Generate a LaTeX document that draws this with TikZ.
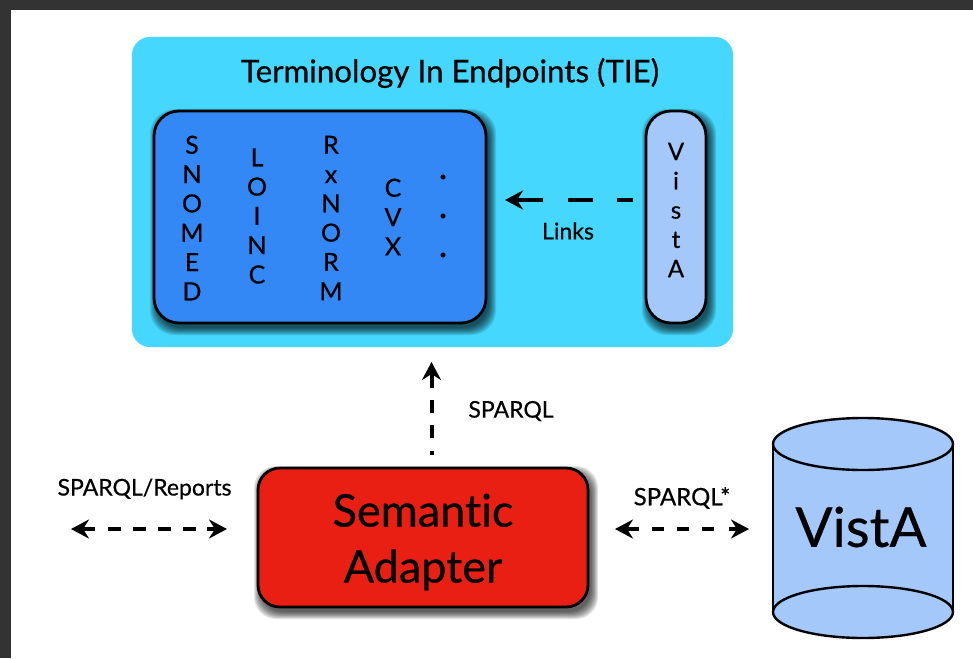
\documentclass[tikz,border=0pt]{standalone}
\usepackage{fontspec}
\setmainfont[FakeBold=0.5,Ligatures=NoCommon]{Lato}
\usetikzlibrary{arrows.meta,calc}
\definecolor{framegrey}{HTML}{333333}
\definecolor{tiecyan}{HTML}{45D7FD}
\definecolor{boxblue}{HTML}{3388F5}
\definecolor{lightblue}{HTML}{A5C8FA}
\definecolor{adapterred}{HTML}{EA1F13}
\newcommand{\softshadow}[5]{% x1 y1 x2 y2 radius: layered soft shadow
  \foreach \g in {14,12,10,8,6,4,2,0}{
    \fill[black,opacity=0.11,rounded corners=#5pt]
      ($(#1-\g*0.5+3,#2-\g*0.5+5)$) rectangle ($(#3+\g*0.5+3,#4+\g*0.5+5)$);
  }}
\tikzset{
  x=1pt,y=-1pt,
  panel/.style={draw=black,line width=2.8pt,anchor=center,inner sep=0pt},
  lettercol/.style={align=center,font=\fontsize{25}{29.3}\selectfont,inner sep=0pt,text=black},
  lbl/.style={font=\fontsize{23}{26}\selectfont,inner sep=0pt,text=black},
  flow/.style={draw=black,line width=4pt},
  flowtip/.tip={Stealth[length=18pt,width=19pt,inset=6pt]},
}
\begin{document}
\begin{tikzpicture}
\useasboundingbox (0,0) rectangle (973,658);
\fill[framegrey] (0,0) rectangle (973,658);
\fill[white] (11,10) rectangle (973,658);
% TIE container
\node[fill=tiecyan,rounded corners=18pt,minimum width=601pt,minimum height=310pt,inner sep=0pt] (tie) at (432.5,192) {};
\node[font=\fontsize{31.3}{36}\selectfont,inner sep=0pt] (tietitle) at (450,73) {Terminology In Endpoints (TIE)};
% terminology box
\softshadow{154}{111}{486}{323}{25}
\node[panel,fill=boxblue,rounded corners=25pt,minimum width=332pt,minimum height=212pt] (terms) at (320,217) {};
\node[lettercol] (snomed) at (192,218) {S\\N\\O\\M\\E\\D};
\node[lettercol] (loinc) at (257,216) {L\\O\\I\\N\\C};
\node[lettercol] (rxnorm) at (331,218) {R\\x\\N\\O\\R\\M};
\node[lettercol] (cvx) at (393,217) {C\\V\\X};
\node[lettercol,font=\fontsize{36}{39}\selectfont] (dots) at (443,216) {.\\.\\.};
% VistA pill
\softshadow{646}{111}{706}{323}{25}
\node[panel,fill=lightblue,rounded corners=25pt,minimum width=60pt,minimum height=212pt] (pill) at (676,217) {};
\node[lettercol,font=\fontsize{24}{29.3}\selectfont] (pilltext) at (676,210) {V\\i\\s\\t\\A};
% Links
\coordinate (linkstart) at (633,200);
\coordinate (linkend) at (505,200);
\draw[flow,dash pattern=on 16pt off 24pt on 25pt off 25pt on 40pt,-{flowtip}] (linkstart) -- (linkend);
\node[lbl] (links) at (568,231) {Links};
% Adapter
\softshadow{258}{468}{588}{607}{22}
\node[panel,fill=adapterred,rounded corners=22pt,minimum width=330pt,minimum height=139pt] (adapter) at (423,537.5) {};
\node[align=center,font=\fontsize{45}{56}\selectfont,inner sep=0pt] (adaptertext) at (423,542) {Semantic\\Adapter};
% SPARQL up
\coordinate (upstart) at (431.5,455);
\coordinate (upend) at (431.5,362);
\draw[flow,dash pattern=on 4pt off 13pt on 13pt off 12pt on 13pt off 12pt on 40pt,-{flowtip}] (upstart) -- (upend);
\node[lbl] (sparqlup) at (511,411) {SPARQL};
% Left
\coordinate (lefta) at (71,529);
\coordinate (leftb) at (227,529);
\draw[flow,{flowtip}-{flowtip},dash pattern=on 13pt off 13pt on 13pt off 12pt on 13pt off 12pt on 13pt off 12pt on 13pt off 11pt on 20pt] (lefta) -- (leftb);
\node[lbl] (reports) at (144.5,489) {SPARQL/Reports};
% Right
\coordinate (righta) at (615,529);
\coordinate (rightb) at (749,529);
\draw[flow,{flowtip}-{flowtip},dash pattern=on 13pt off 13pt on 12pt off 13pt on 12pt off 13pt on 12pt off 15pt on 20pt] (righta) -- (rightb);
\node[lbl,font=\fontsize{24}{26}\selectfont] (sparqlstar) at (682,498) {SPARQL*};
% Cylinder
\node[minimum width=180pt,minimum height=194pt,inner sep=0pt] (vista) at (863,528) {};
\draw[black,line width=2.4pt,fill=lightblue] (773,444) -- (773,612) -- (953,612) -- (953,444) -- cycle;
\draw[black,line width=2.4pt,fill=lightblue] (863,444) ellipse[x radius=90,y radius=26];
\draw[black,line width=2.4pt,fill=lightblue] (863,612) ellipse[x radius=90,y radius=26];
\node[font=\fontsize{55}{60}\selectfont,inner sep=0pt] (vistatext) at (861,527) {VistA};
\end{tikzpicture}
\end{document}
